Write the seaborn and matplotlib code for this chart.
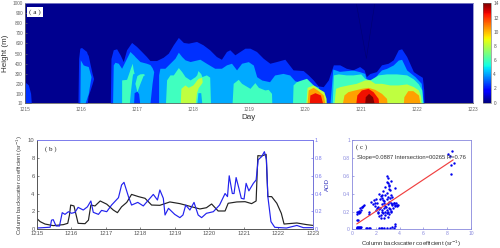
import numpy as np
import matplotlib
matplotlib.use("Agg")
import matplotlib.pyplot as plt
import seaborn as sns

sns.set_theme(style="white")
plt.rcParams["font.family"] = ["Liberation Sans", "DejaVu Sans"]

day_labels = ["1215", "1216", "1217", "1218", "1219", "1220", "1221", "1222", "1223"]
height_ticks = [10, 100, 200, 300, 400, 500, 600, 700, 800, 900, 1000]
height_labels = ["10", "100", "200", "300", "400", "500", "600", "700", "800", "900", "1000"]

# contour bands of panel a, each one: days, lower height, upper height
blue_d = [0, .06, .1, .113, .946, .958, .98, 1.01, 1.1, 1.11, 1.13, 1.16, 1.2, 1.226, 1.524, 1.536, 1.577, 1.637, 1.70, 1.756, 1.815, 1.905, 1.994, 2.083, 2.17, 2.232, 2.35, 2.47, 2.56, 2.65, 2.74, 2.83, 2.92, 3.065, 3.18, 3.30, 3.42, 3.51, 3.6, 3.66, 3.75, 3.84, 3.93, 4.02, 4.137, 4.256, 4.375, 4.494, 4.643, 4.79, 4.97, 5.06, 5.15, 5.24, 5.33, 5.42, 5.51, 5.625, 5.74, 5.86, 5.98, 6.06, 6.10, 6.16, 6.28, 6.37, 6.49, 6.58, 6.67, 6.73, 6.82, 6.94, 7.03, 7.1, 7.125, 7.13]
blue_top = [215, 187, 103, 0, 0, 450, 553, 560, 520, 500, 480, 400, 300, 250, 0, 450, 537, 547, 487, 420, 537, 610, 570, 520, 470, 430, 430, 463, 503, 587, 660, 610, 603, 620, 587, 537, 470, 443, 520, 537, 487, 520, 553, 553, 520, 453, 403, 420, 443, 337, 330, 287, 237, 177, 170, 237, 387, 387, 353, 337, 370, 337, 270, 300, 320, 387, 403, 437, 537, 547, 470, 320, 287, 263, 137, 0]
blue_low = [0, 0, 0, 0, 0, 0, 0, 0, 0, 0, 85, 130, 200, 250, 0, 0, 0, 0, 0, 0, 0, 0, 0, 0, 0, 0, 0, 0, 0, 0, 0, 0, 0, 0, 0, 0, 0, 0, 0, 0, 0, 0, 0, 0, 0, 0, 0, 0, 0, 0, 0, 0, 0, 0, 0, 0, 0, 0, 0, 0, 0, 0, 0, 0, 0, 0, 0, 0, 0, 0, 0, 0, 0, 0, 0, 0]

azure_d = [.98, .988, 1.04, 1.07, 1.13, 1.15, 1.18, 1.565, 1.577, 1.607, 1.667, 1.726, 1.786, 1.875, 1.95, 1.964, 2.0, 2.054, 2.17, 2.232, 2.27, 2.30, 2.387, 2.388, 2.41, 2.5, 2.59, 2.68, 2.74, 2.8, 2.86, 2.95, 3.125, 3.24, 3.39, 3.51, 3.6, 3.69, 3.78, 3.87, 3.99, 4.08, 4.14, 4.23, 4.37, 4.46, 4.61, 4.73, 4.82, 4.97, 5.12, 5.24, 5.27, 5.45, 5.5, 5.62, 5.74, 5.86, 5.98, 6.07, 6.10, 6.22, 6.31, 6.37, 6.46, 6.58, 6.67, 6.73, 6.82, 6.97, 7.08, 7.11, 7.12]
azure_top = [0, 437, 387, 380, 370, 330, 270, 0, 387, 413, 403, 353, 420, 520, 480, 470, 450, 420, 403, 390, 360, 320, 0, 287, 353, 353, 403, 453, 513, 470, 437, 420, 443, 403, 353, 353, 387, 403, 337, 403, 419, 385, 269, 236, 219, 286, 302, 286, 229, 202, 186, 169, 0, 0, 345, 322, 329, 335, 319, 302, 236, 236, 302, 336, 352, 386, 435, 442, 336, 269, 203, 37, 0]
azure_low = [0, 0, 0, 0, 100, 170, 270, 0, 0, 0, 0, 0, 0, 0, 0, 0, 0, 0, 0, 0, 200, 320, 0, 0, 0, 0, 0, 0, 0, 0, 0, 0, 0, 0, 0, 0, 0, 0, 0, 0, 0, 0, 0, 0, 0, 0, 0, 0, 0, 0, 0, 0, 0, 0, 0, 0, 0, 0, 0, 0, 0, 0, 0, 0, 0, 0, 0, 0, 0, 0, 0, 0, 0]
# holes of azure where only the blue band is left
hole_d = [1.94, 1.95, 2.0, 2.03, 2.05]
hole_top = [0, 110, 125, 100, 0]

aqua_d = [1.726, 1.727, 1.815, 1.863, 1.887, 1.917, 1.93, 1.95, 1.964, 2.0, 2.05, 2.11, 2.14, 2.51, 2.53, 2.59, 2.65, 2.74, 2.8, 2.86, 2.95, 3.04, 3.07, 3.09, 3.14, 3.16, 3.24, 3.30, 3.315, 3.70, 3.72, 3.81, 3.87, 4.02, 4.107, 4.17, 4.286, 4.345, 4.405, 4.41, 4.78, 4.79, 4.85, 4.94, 5.03, 5.15, 5.27, 5.36, 5.38, 5.49, 5.51, 5.6, 5.74, 5.86, 6.0, 6.07, 6.16, 6.31, 6.46, 6.64, 6.82, 6.94, 7.03, 7.09, 7.11]
aqua_top = [0, 237, 243, 320, 360, 403, 350, 300, 203, 280, 297, 300, 290, 0, 237, 287, 287, 360, 320, 270, 237, 270, 290, 330, 300, 270, 287, 265, 0, 0, 203, 243, 203, 153, 210, 163, 137, 143, 103, 0, 0, 187, 220, 237, 253, 187, 137, 70, 0, 0, 287, 297, 287, 287, 297, 253, 237, 287, 297, 297, 287, 247, 197, 137, 0]
aqua_low = [0, 0, 0, 0, 137, 280, 303, 300, 203, 120, 197, 280, 290, 0, 0, 0, 0, 0, 0, 0, 0, 0, 0, 110, 110, 0, 0, 0, 0, 0, 0, 0, 0, 0, 0, 0, 0, 0, 0, 0, 0, 0, 0, 0, 0, 0, 0, 0, 0, 0, 0, 0, 0, 0, 0, 0, 0, 0, 0, 0, 0, 0, 0, 0, 0]

lime_d = [2.774, 2.786, 2.857, 2.917, 3.0, 3.04, 3.065, 3.095, 3.155, 3.167, 5.018, 5.04, 5.15, 5.24, 5.34, 5.38, 5.381, 5.52, 5.55, 5.625, 5.77, 5.92, 6.07, 6.16, 6.25, 6.37, 6.52, 6.67, 6.82, 6.94, 7.03, 7.07, 7.08]
lime_top = [0, 153, 187, 163, 187, 215, 235, 253, 263, 220, 0, 163, 187, 153, 120, 53, 0, 0, 153, 170, 187, 203, 237, 237, 203, 203, 187, 187, 197, 170, 137, 70, 0]
lime_low = [0, 0, 0, 0, 0, 0, 110, 160, 205, 220, 0, 0, 0, 0, 0, 0, 0, 0, 0, 0, 0, 0, 0, 0, 0, 0, 0, 0, 0, 0, 0, 0, 0]

orange_d = [5.04, 5.06, 5.15, 5.24, 5.33, 5.36, 5.67, 5.70, 5.77, 5.89, 6.01, 6.13, 6.25, 6.37, 6.46, 6.47, 6.76, 6.77, 6.84, 6.93, 7.03, 7.06]
orange_top = [0, 137, 163, 130, 87, 0, 0, 87, 120, 137, 153, 163, 143, 103, 53, 0, 0, 70, 130, 130, 87, 0]

red_d = [5.08, 5.09, 5.18, 5.28, 5.32, 5.91, 5.93, 6.01, 6.13, 6.22, 6.31, 6.32]
red_top = [0, 87, 110, 87, 0, 0, 87, 137, 153, 120, 53, 0]

darkred_d = [6.07, 6.08, 6.14, 6.21, 6.24]
darkred_top = [0, 70, 103, 70, 0]

# thin contour line in the navy part
vee_d = [5.92, 6.1, 6.25]
vee_h = [1000, 450, 1000]

# panel b
black_d = [0, .1, .24, .48, .77, .9, .95, .985, 1.08, 1.2, 1.4, 1.5, 1.57, 1.69, 1.84, 2.03, 2.22, 2.34, 2.46, 2.61, 2.75, 2.95, 3.14, 3.33, 3.57, 3.86, 4.15, 4.44, 4.73, 4.92, 5.07, 5.26, 5.46, 5.55, 5.8, 6.04, 6.23, 6.36, 6.41, 6.52, 6.65, 6.7, 6.81, 6.96, 7.09, 7.17, 7.54, 7.83, 8.0]
black_val = [1.2, .83, .56, .38, .49, .64, 1.58, 2.7, 2.6, .64, .6, 1.0, 2.7, 2.6, 3.16, 2.8, 2.14, 1.84, 2.5, 3.0, 3.9, 3.65, 3.46, 2.7, 2.67, 3.05, 2.86, 2.56, 2.26, 2.4, 2.82, 2.03, 2.03, 2.9, 3.05, 3.08, 2.86, 3.16, 8.27, 8.23, 8.42, 3.65, 3.65, 2.9, 1.77, .56, .68, .49, .41]
aod_d = [0, .39, .43, .48, .56, .66, .74, .82, .92, 1.01, 1.11, 1.2, 1.35, 1.47, 1.57, 1.64, 1.79, 1.88, 2.03, 2.17, 2.37, 2.46, 2.53, 2.66, 2.75, 2.93, 3.09, 3.24, 3.38, 3.5, 3.57, 3.67, 3.72, 3.82, 4.0, 4.15, 4.24, 4.32, 4.44, 4.56, 4.68, 4.78, 4.92, 5.12, 5.3, 5.46, 5.53, 5.58, 5.67, 5.72, 5.78, 5.86, 5.93, 6.01, 6.07, 6.15, 6.28, 6.36, 6.42, 6.52, 6.6, 6.66, 6.7, 6.79, 6.9, 7.24, 7.54, 7.73, 8.0]
aod_val = [.011, .02, .1, .105, .034, .034, .184, .165, .195, .177, .188, .244, .214, .25, .316, .188, .165, .21, .195, .27, .353, .496, .526, .365, .27, .3, .26, .327, .39, .327, .44, .346, .158, .233, .165, .128, .158, .27, .214, .3, .158, .128, .177, .195, .27, .4, .365, .6, .4, .4, .58, .46, .346, .338, .515, .43, .515, .553, .78, .816, .872, .78, .365, .083, .019, .011, .04, .015, .015]

# panel c
col_back = [.4, .45, .5, .5, .55, .6, .65, .7, .7, .4, .6, .75, .4, .45, .45, .5, .5, .55, .6, .65, .7, .75, .8, .85, .95, 1.0,
            1.2, 1.3, 1.4, 1.55, 2.3, 2.4, 2.55, 2.7, 2.95, 3.2, 3.5, 3.6, 3.65, 3.4,
            1.4, 1.45, 1.6, 1.75, 1.85, 1.9, 2.0, 2.05, 2.1, 2.15, 2.2, 2.25, 2.3, 2.35, 2.4, 2.45, 2.5, 2.5, 2.55, 2.6, 2.6, 2.65, 2.7, 2.7, 2.75, 2.8, 2.8, 2.85, 2.9, 2.9, 2.95, 3.0, 3.0, 3.05, 3.1, 3.1, 3.15, 3.2, 3.2, 3.25, 3.3, 3.3, 3.35, 3.4, 3.45, 3.5, 3.55, 3.6, 3.65, 3.7, 3.75, 3.8, 3.85,
            1.9, 2.1, 2.2, 2.3, 2.4, 2.5, 2.6, 2.7, 2.8, 2.9, 3.0, 3.05, 3.1, 3.15, 3.2, 3.3, 3.4, 2.35, 2.55, 2.75, 2.95, 2.95, 3.0, 3.1, 3.3, 3.6,
            8.1, 8.2, 8.4, 8.6, 8.3, 8.3]
col_aod = [.02, .03, .01, .025, .02, .015, .03, .01, .02, .01, .03, .025, .1, .17, .19, .11, .2, .18, .21, .19, .24, .22, .25, .255, .26, .27,
           .015, .01, .02, .01, .015, .02, .015, .01, .015, .015, .02, .04, .065, .03,
           .2, .17, .31, .28, .33, .3, .34, .22, .29, .18, .25, .4, .15, .24, .37, .13, .19, .28, .22, .18, .33, .13, .24, .3, .16, .2, .38, .25, .18, .34, .22, .14, .28, .2, .24, .31, .17, .23, .35, .19, .21, .3, .28, .36, .24, .3, .29, .26, .27, .3, .27, .26, .27,
           .26, .24, .2, .23, .16, .35, .43, .32, .26, .41, .52, .36, .45, .5, .44, .38, .27, .34, .39, .47, .53, .6, .58, .49, .54, .46,
           .85, .82, .88, .74, .72, .62]
fit_x = [.4, 8.5]
fit_y = [.06, .78]

W, H = 500, 248
fig = plt.figure(figsize=(W / 100, H / 100), dpi=100)


def box(x0, y0, x1, y1):
    return fig.add_axes([x0 / W, 1 - y1 / H, (x1 - x0) / W, (y1 - y0) / H])


def style(ax, color="#555555", size=3.4):
    ax.tick_params(direction="in", length=1.5, width=.5, labelsize=size, pad=1.5,
                   colors=color, left=True, bottom=True)
    for s in ax.spines.values():
        s.set_linewidth(.6)
        s.set_color(color)


# panel a
ax = box(25, 3.3, 472.7, 102.7)
ax.set_facecolor("#00008F")
bands = [(blue_d, blue_low, blue_top, "#0030FF"),
         (azure_d, azure_low, azure_top, "#00AAFF"),
         (hole_d, [0] * len(hole_d), hole_top, "#0030FF"),
         (aqua_d, aqua_low, aqua_top, "#40FFBF"),
         (lime_d, lime_low, lime_top, "#BFFF40"),
         (orange_d, [0] * len(orange_d), orange_top, "#FFA000"),
         (red_d, [0] * len(red_d), red_top, "#F01000"),
         (darkred_d, [0] * len(darkred_d), darkred_top, "#800000")]
for d, low, top, c in bands:
    ax.fill_between(d, low, top, color=c, lw=0)
ax.plot(vee_d, vee_h, color="#000070", lw=.4)
ax.set_xlim(0, 8)
ax.set_ylim(10, 1000)
ax.set_xticks(range(9), day_labels)
ax.set_yticks(height_ticks, height_labels)
style(ax, "#666666")
ax.tick_params(axis="x", pad=3)
ax.spines["top"].set_color("#8888cc")
ax.spines["right"].set_color("#8888cc")
ax.set_xlabel("Day", fontsize=5.8, color="#333333", labelpad=1.5)
ax.set_ylabel("Height (m)", fontsize=5.8, color="#333333", labelpad=2.5)
ax.text(.0085, .945, "( a )", transform=ax.transAxes, family="Liberation Serif", fontsize=5.2,
        va="top", color="#222222", bbox=dict(fc="white", ec="none", pad=1.5))

# colorbar
cax = box(482.7, 3.3, 491.3, 102.7)
sm = plt.cm.ScalarMappable(norm=plt.Normalize(0, 14), cmap="jet")
cb = fig.colorbar(sm, cax=cax, ticks=range(0, 15, 2))
cb.outline.set_linewidth(.4)
cb.outline.set_edgecolor("#666666")
cax.tick_params(length=0, labelsize=3.4, pad=1.5, colors="#555555")

# panel b
ax = box(36.7, 140.3, 312.7, 229)
sns.lineplot(x=black_d, y=black_val, color="#222222", lw=.85, errorbar=None, ax=ax)
ax.set_xlim(0, 8)
ax.set_ylim(0, 10)
ax.set_xticks(range(9), day_labels)
ax.set_yticks(range(0, 11, 2))
style(ax, "#555555", 4.2)
ax.spines["top"].set_color("#9999dd")
ax.set_ylabel("Column backscatter coefficient (sr$^{-1}$)", fontsize=4.3, color="#444444", labelpad=2.5)
ax.text(.03, .93, "( b )", transform=ax.transAxes, family="Liberation Serif", fontsize=5,
        va="top", color="#222222")
ax2 = ax.twinx()
sns.lineplot(x=aod_d, y=aod_val, color="#2222EE", lw=.85, errorbar=None, ax=ax2)
ax2.set_ylim(0, 1)
ax2.set_yticks(np.arange(0, 1.01, .2), ["0", "0.2", "0.4", "0.6", "0.8", "1"])
ax2.grid(False)
style(ax2, "#7777EE", 3.9)
ax2.tick_params(right=True, left=False, bottom=False)
ax2.spines["left"].set_color("#555555")
ax2.spines["bottom"].set_color("#555555")
ax2.set_ylabel("AOD", fontsize=4.3, color="#3333BB", labelpad=2)

# panel c
ax = box(352, 140.3, 471, 229.3)
sns.scatterplot(x=col_back, y=col_aod, color="#0000EE", s=3, linewidth=0, ax=ax)
sns.lineplot(x=fit_x, y=fit_y, color="#F04040", lw=.85, errorbar=None, ax=ax)
ax.set_xlim(0, 10)
ax.set_ylim(0, 1)
ax.set_xticks(range(0, 11, 2))
ax.set_yticks(np.arange(0, 1.01, .2), ["0", "0.2", "0.4", "0.6", "0.8", "1"])
style(ax, "#8888DD", 3.6)
ax.set_xlabel("Column backscatter coefficient (sr$^{-1}$)", fontsize=4.3, color="#333333", labelpad=1.5)
ax.text(.03, .96, "( c )", transform=ax.transAxes, family="Liberation Serif", fontsize=5,
        va="top", color="#222222")
ax.text(.045, .805, "Slope=0.0887 Intersection=00265 R=0.76", transform=ax.transAxes,
        fontsize=4.2, va="center", color="#333333")

fig.savefig("out.png", dpi=100)
